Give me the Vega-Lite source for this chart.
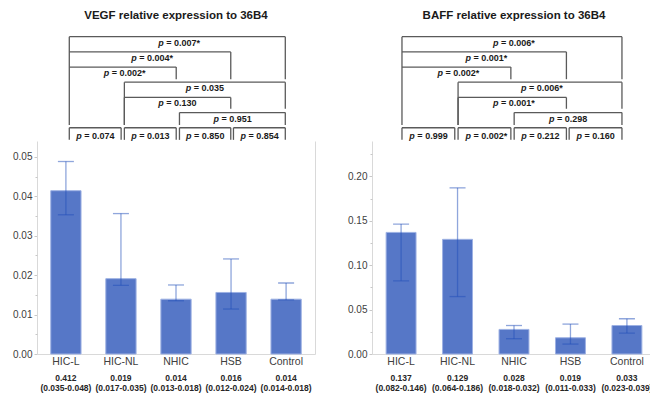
{
  "$schema": "https://vega.github.io/schema/vega-lite/v6.json",
  "padding": {"left": 12, "top": 9, "right": 0, "bottom": 2},
  "background": "white",
  "config": {"view": {"stroke": null}, "font": "Liberation Sans"},
  "datasets": {
    "vegf": [
      {"group": "HIC-L", "mean": 0.0414, "lo": 0.0353, "hi": 0.0488, "med": "0.412", "ci": "(0.035-0.048)"},
      {"group": "HIC-NL", "mean": 0.0191, "lo": 0.0174, "hi": 0.0356, "med": "0.019", "ci": "(0.017-0.035)"},
      {"group": "NHIC", "mean": 0.0139, "lo": 0.0135, "hi": 0.0175, "med": "0.014", "ci": "(0.013-0.018)"},
      {"group": "HSB", "mean": 0.0156, "lo": 0.0114, "hi": 0.0241, "med": "0.016", "ci": "(0.012-0.024)"},
      {"group": "Control", "mean": 0.0139, "lo": 0.0137, "hi": 0.018, "med": "0.014", "ci": "(0.014-0.018)"}
    ],
    "baff": [
      {"group": "HIC-L", "mean": 0.137, "lo": 0.0824, "hi": 0.1464, "med": "0.137", "ci": "(0.082-0.146)"},
      {"group": "HIC-NL", "mean": 0.1292, "lo": 0.0647, "hi": 0.1872, "med": "0.129", "ci": "(0.064-0.186)"},
      {"group": "NHIC", "mean": 0.0277, "lo": 0.0172, "hi": 0.0321, "med": "0.028", "ci": "(0.018-0.032)"},
      {"group": "HSB", "mean": 0.0183, "lo": 0.0112, "hi": 0.0337, "med": "0.019", "ci": "(0.011-0.033)"},
      {"group": "Control", "mean": 0.0321, "lo": 0.0236, "hi": 0.0397, "med": "0.033", "ci": "(0.023-0.039)"}
    ],
    "brL": [
      {"x1": 0, "x2": 4, "xm": 2, "lev": 1, "le": 2, "re": 3.8, "kind": "up", "lab": "= 0.007*"},
      {"x1": 0, "x2": 2.99, "xm": 1.5, "lev": 2, "le": 3, "re": 3.8, "kind": "up", "lab": "= 0.004*"},
      {"x1": 0, "x2": 1.98, "xm": 0.99, "lev": 3, "le": 6.82, "re": 3.8, "kind": "up", "lab": "= 0.002*"},
      {"x1": 1.02, "x2": 4, "xm": 2.51, "lev": 4, "le": 6.82, "re": 5.75, "kind": "up", "lab": "= 0.035"},
      {"x1": 1.02, "x2": 2.99, "xm": 2.0, "lev": 5, "le": 6.82, "re": 5.75, "kind": "up", "lab": "= 0.130"},
      {"x1": 2.04, "x2": 4, "xm": 3.02, "lev": 6, "le": 6.82, "re": 6.82, "kind": "up", "lab": "= 0.951"},
      {"x1": 0, "x2": 0.96, "xm": 0.48, "lev": 7, "le": 7.8, "re": 7.8, "kind": "box", "lab": "= 0.074"},
      {"x1": 1.02, "x2": 1.98, "xm": 1.5, "lev": 7, "le": 7.8, "re": 7.8, "kind": "box", "lab": "= 0.013"},
      {"x1": 2.04, "x2": 2.99, "xm": 2.515, "lev": 7, "le": 7.8, "re": 7.8, "kind": "box", "lab": "= 0.850"},
      {"x1": 3.04, "x2": 4, "xm": 3.52, "lev": 7, "le": 7.8, "re": 7.8, "kind": "box", "lab": "= 0.854"}
    ],
    "brR": [
      {"x1": 0, "x2": 4, "xm": 2, "lev": 1, "le": 2, "re": 3.8, "kind": "up", "lab": "= 0.006*"},
      {"x1": 0, "x2": 2.99, "xm": 1.5, "lev": 2, "le": 3, "re": 3.8, "kind": "up", "lab": "= 0.001*"},
      {"x1": 0, "x2": 1.98, "xm": 0.99, "lev": 3, "le": 6.82, "re": 3.8, "kind": "up", "lab": "= 0.002*"},
      {"x1": 1.02, "x2": 4, "xm": 2.51, "lev": 4, "le": 6.82, "re": 5.75, "kind": "up", "lab": "= 0.006*"},
      {"x1": 1.02, "x2": 2.99, "xm": 2.0, "lev": 5, "le": 6.82, "re": 5.75, "kind": "up", "lab": "= 0.001*"},
      {"x1": 2.04, "x2": 4, "xm": 3.02, "lev": 6, "le": 6.82, "re": 6.82, "kind": "up", "lab": "= 0.298"},
      {"x1": 0, "x2": 0.96, "xm": 0.48, "lev": 7, "le": 7.8, "re": 7.8, "kind": "box", "lab": "= 0.999"},
      {"x1": 1.02, "x2": 1.98, "xm": 1.5, "lev": 7, "le": 7.8, "re": 7.8, "kind": "box", "lab": "= 0.002*"},
      {"x1": 2.04, "x2": 2.99, "xm": 2.515, "lev": 7, "le": 7.8, "re": 7.8, "kind": "box", "lab": "= 0.212"},
      {"x1": 3.04, "x2": 4, "xm": 3.52, "lev": 7, "le": 7.8, "re": 7.8, "kind": "box", "lab": "= 0.160"}
    ]
  },
  "spacing": 32,
  "hconcat": [
    {
      "spacing": 0,
      "vconcat": [
        {
          "title": {"text": "VEGF relative expression to 36B4", "fontSize": 11.5, "fontWeight": "bold", "color": "#1a1a1a", "offset": 9},
          "width": 278,
          "height": 111,
          "data": {"name": "brL"},
          "encoding": {
            "x": {"field": "x1", "type": "quantitative", "scale": {"domain": [-0.598, 4.55], "nice": false, "zero": false}, "axis": null},
            "y": {"field": "lev", "type": "quantitative", "scale": {"domain": [0.558, 7.875], "nice": false, "zero": false, "reverse": true}, "axis": null}
          },
          "layer": [
            {"mark": {"type": "rule", "color": "#5a5a5a", "strokeWidth": 1.3}, "encoding": {"x2": {"field": "x2"}}},
            {"mark": {"type": "rule", "color": "#5a5a5a", "strokeWidth": 1.3}, "encoding": {"y2": {"field": "le"}}},
            {"mark": {"type": "rule", "color": "#5a5a5a", "strokeWidth": 1.3}, "encoding": {"x": {"field": "x2", "type": "quantitative"}, "y2": {"field": "re"}}},
            {"transform": [{"filter": "datum.kind === 'up'"}], "mark": {"type": "text", "text": "p", "align": "right", "baseline": "middle", "dx": -13.5, "dy": 6, "fontSize": 9, "fontWeight": "bold", "fontStyle": "italic", "color": "#1a1a1a"}, "encoding": {"x": {"field": "xm", "type": "quantitative"}}},
            {"transform": [{"filter": "datum.kind === 'up'"}], "mark": {"type": "text", "align": "left", "baseline": "middle", "dx": -11, "dy": 6, "fontSize": 9, "fontWeight": "bold", "color": "#1a1a1a"}, "encoding": {"x": {"field": "xm", "type": "quantitative"}, "text": {"field": "lab"}}},
            {"transform": [{"filter": "datum.kind === 'box'"}], "mark": {"type": "text", "text": "p", "align": "right", "baseline": "middle", "dx": -13.5, "dy": 8, "fontSize": 9, "fontWeight": "bold", "fontStyle": "italic", "color": "#1a1a1a"}, "encoding": {"x": {"field": "xm", "type": "quantitative"}}},
            {"transform": [{"filter": "datum.kind === 'box'"}], "mark": {"type": "text", "align": "left", "baseline": "middle", "dx": -11, "dy": 8, "fontSize": 9, "fontWeight": "bold", "color": "#1a1a1a"}, "encoding": {"x": {"field": "xm", "type": "quantitative"}, "text": {"field": "lab"}}}
          ]
        },
        {
          "width": 278,
          "height": 213,
          "data": {"name": "vegf"},
          "encoding": {
            "x": {"field": "group", "type": "nominal", "sort": null, "scale": {"paddingInner": 0.45, "paddingOuter": 0.25},
              "axis": {"title": null, "labelAngle": 0, "ticks": false, "domainColor": "#d9d9d9", "labelFontSize": 10.5, "labelColor": "#404040", "labelPadding": 2}}
          },
          "layer": [
            {"mark": {"type": "bar", "color": "#5677C7", "stroke": "#9DB1E3", "strokeWidth": 1},
              "encoding": {"y": {"field": "mean", "type": "quantitative", "scale": {"domain": [0, 0.054], "nice": false},
                "axis": {"orient": "left", "title": null, "values": [0, 0.01, 0.02, 0.03, 0.04, 0.05], "format": ".2f", "grid": false, "domainColor": "#d9d9d9", "tickColor": "#c8c8c8", "tickSize": 3, "labelPadding": 2, "labelFontSize": 10, "labelColor": "#404040"}}}},
            {"mark": {"type": "rule", "color": "#1F4DB9", "opacity": 0.5, "strokeWidth": 1.3},
              "encoding": {"y": {"field": "lo", "type": "quantitative",
                "axis": {"orient": "left", "title": null, "values": [0.005, 0.015, 0.025, 0.035, 0.045], "labels": false, "domain": false, "grid": false, "tickColor": "#c8c8c8", "tickSize": 2}},
                "y2": {"field": "hi"}}},
            {"mark": {"type": "tick", "color": "#1F4DB9", "opacity": 0.5, "thickness": 1.3, "size": 16, "orient": "horizontal"},
              "encoding": {"y": {"field": "lo", "type": "quantitative", "axis": {"orient": "right", "title": null, "labels": false, "ticks": false, "grid": false, "domainColor": "#d9d9d9"}}}},
            {"mark": {"type": "tick", "color": "#1F4DB9", "opacity": 0.5, "thickness": 1.3, "size": 16, "orient": "horizontal"},
              "encoding": {"y": {"field": "hi", "type": "quantitative", "axis": null}}},
            {"mark": {"type": "text", "dy": 24, "baseline": "middle", "fontSize": 8.5, "fontWeight": "bold", "color": "#262626"},
              "encoding": {"y": {"datum": 0, "type": "quantitative", "axis": null}, "text": {"field": "med"}}},
            {"mark": {"type": "text", "dy": 34, "baseline": "middle", "fontSize": 8.5, "fontWeight": "bold", "color": "#262626"},
              "encoding": {"y": {"datum": 0, "type": "quantitative", "axis": null}, "text": {"field": "ci"}}}
          ],
          "resolve": {"axis": {"y": "independent"}}
        }
      ]
    },
    {
      "spacing": 0,
      "vconcat": [
        {
          "title": {"text": "BAFF relative expression to 36B4", "fontSize": 11.5, "fontWeight": "bold", "color": "#1a1a1a", "offset": 9},
          "width": 284,
          "height": 111,
          "data": {"name": "brR"},
          "encoding": {
            "x": {"field": "x1", "type": "quantitative", "scale": {"domain": [-0.545, 4.619], "nice": false, "zero": false}, "axis": null},
            "y": {"field": "lev", "type": "quantitative", "scale": {"domain": [0.558, 7.875], "nice": false, "zero": false, "reverse": true}, "axis": null}
          },
          "layer": [
            {"mark": {"type": "rule", "color": "#5a5a5a", "strokeWidth": 1.3}, "encoding": {"x2": {"field": "x2"}}},
            {"mark": {"type": "rule", "color": "#5a5a5a", "strokeWidth": 1.3}, "encoding": {"y2": {"field": "le"}}},
            {"mark": {"type": "rule", "color": "#5a5a5a", "strokeWidth": 1.3}, "encoding": {"x": {"field": "x2", "type": "quantitative"}, "y2": {"field": "re"}}},
            {"transform": [{"filter": "datum.kind === 'up'"}], "mark": {"type": "text", "text": "p", "align": "right", "baseline": "middle", "dx": -13.5, "dy": 6, "fontSize": 9, "fontWeight": "bold", "fontStyle": "italic", "color": "#1a1a1a"}, "encoding": {"x": {"field": "xm", "type": "quantitative"}}},
            {"transform": [{"filter": "datum.kind === 'up'"}], "mark": {"type": "text", "align": "left", "baseline": "middle", "dx": -11, "dy": 6, "fontSize": 9, "fontWeight": "bold", "color": "#1a1a1a"}, "encoding": {"x": {"field": "xm", "type": "quantitative"}, "text": {"field": "lab"}}},
            {"transform": [{"filter": "datum.kind === 'box'"}], "mark": {"type": "text", "text": "p", "align": "right", "baseline": "middle", "dx": -13.5, "dy": 8, "fontSize": 9, "fontWeight": "bold", "fontStyle": "italic", "color": "#1a1a1a"}, "encoding": {"x": {"field": "xm", "type": "quantitative"}}},
            {"transform": [{"filter": "datum.kind === 'box'"}], "mark": {"type": "text", "align": "left", "baseline": "middle", "dx": -11, "dy": 8, "fontSize": 9, "fontWeight": "bold", "color": "#1a1a1a"}, "encoding": {"x": {"field": "xm", "type": "quantitative"}, "text": {"field": "lab"}}}
          ]
        },
        {
          "width": 284,
          "height": 213,
          "data": {"name": "baff"},
          "encoding": {
            "x": {"field": "group", "type": "nominal", "sort": null, "scale": {"paddingInner": 0.47, "paddingOuter": 0.25},
              "axis": {"title": null, "labelAngle": 0, "ticks": false, "domainColor": "#d9d9d9", "labelFontSize": 10.5, "labelColor": "#404040", "labelPadding": 2}}
          },
          "layer": [
            {"mark": {"type": "bar", "color": "#5677C7", "stroke": "#9DB1E3", "strokeWidth": 1},
              "encoding": {"y": {"field": "mean", "type": "quantitative", "scale": {"domain": [0, 0.24], "nice": false},
                "axis": {"orient": "left", "title": null, "values": [0, 0.05, 0.1, 0.15, 0.2], "format": ".2f", "grid": false, "domainColor": "#d9d9d9", "tickColor": "#c8c8c8", "tickSize": 3, "labelPadding": 2, "labelFontSize": 10, "labelColor": "#404040"}}}},
            {"mark": {"type": "rule", "color": "#1F4DB9", "opacity": 0.5, "strokeWidth": 1.3},
              "encoding": {"y": {"field": "lo", "type": "quantitative",
                "axis": {"orient": "left", "title": null, "values": [0.025, 0.075, 0.125, 0.175, 0.225], "labels": false, "domain": false, "grid": false, "tickColor": "#c8c8c8", "tickSize": 2}},
                "y2": {"field": "hi"}}},
            {"mark": {"type": "tick", "color": "#1F4DB9", "opacity": 0.5, "thickness": 1.3, "size": 16, "orient": "horizontal"},
              "encoding": {"y": {"field": "lo", "type": "quantitative", "axis": null}}},
            {"mark": {"type": "tick", "color": "#1F4DB9", "opacity": 0.5, "thickness": 1.3, "size": 16, "orient": "horizontal"},
              "encoding": {"y": {"field": "hi", "type": "quantitative", "axis": null}}},
            {"mark": {"type": "text", "dy": 24, "baseline": "middle", "fontSize": 8.5, "fontWeight": "bold", "color": "#262626"},
              "encoding": {"y": {"datum": 0, "type": "quantitative", "axis": null}, "text": {"field": "med"}}},
            {"mark": {"type": "text", "dy": 34, "baseline": "middle", "fontSize": 8.5, "fontWeight": "bold", "color": "#262626"},
              "encoding": {"y": {"datum": 0, "type": "quantitative", "axis": null}, "text": {"field": "ci"}}}
          ],
          "resolve": {"axis": {"y": "independent"}}
        }
      ]
    }
  ]
}
